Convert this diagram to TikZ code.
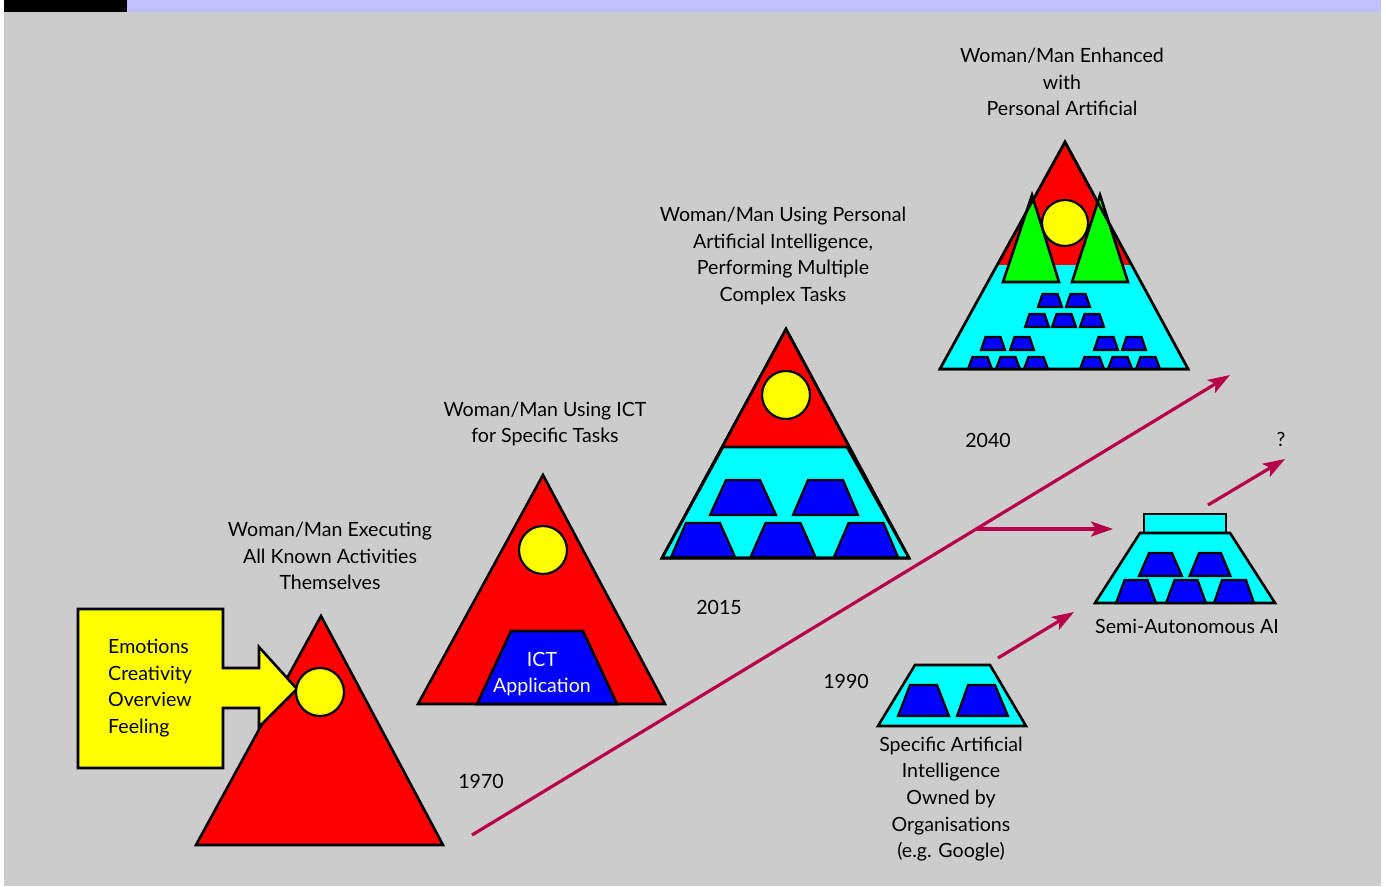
\documentclass[tikz,border=0pt]{standalone}
\usepackage{fontspec}
\setmainfont{Lato}
\usetikzlibrary{arrows.meta}
\definecolor{bg}{RGB}{204,204,204}
\definecolor{lav}{RGB}{192,192,255}
\definecolor{crim}{RGB}{184,0,74}
\definecolor{cyanf}{RGB}{0,255,255}
\definecolor{bluef}{RGB}{0,0,255}
\definecolor{redf}{RGB}{255,0,0}
\definecolor{yelf}{RGB}{255,255,0}
\definecolor{grnf}{RGB}{0,255,0}
\newcommand{\trapz}[5]{\filldraw[bluetrap] ({#1-#4},#2) -- ({#1+#4},#2) -- ({#1+#5},#3) -- ({#1-#5},#3) -- cycle;}
\begin{document}
\begin{tikzpicture}[x=1pt,y=-1pt,
  txt/.style={font=\fontsize{19.6}{26.7}\selectfont, align=center, inner sep=0pt},
  outl/.style={draw=black, line width=2.6pt, line join=miter},
  redtri/.style={outl, fill=redf},
  sun/.style={draw=black, line width=2.2pt, fill=yelf},
  bluetrap/.style={draw=black, line width=2.2pt, fill=bluef},
  cyantrap/.style={draw=black, line width=2.6pt, fill=cyanf},
  arr/.style={draw=crim, line width=3.2pt, -{Stealth[length=22pt,width=15pt,inset=5pt]}}]
\useasboundingbox (0,0) rectangle (1386,886);
\fill[white] (0,0) rectangle (1386,886);
\fill[bg] (4,12) rectangle (1381,886);
\fill[black] (4,0) rectangle (127,12);
\fill[lav] (127,0) rectangle (1381,12);

% ---------- pyramid 1970
\filldraw[redtri] (321,616) -- (443,845) -- (196,845) -- cycle;
\filldraw[draw=black, line width=2.6pt, fill=yelf, line join=miter]
  (78,609) -- (223,609) -- (223,668) -- (259,668) -- (259,647) -- (297,689)
  -- (259,727) -- (259,708) -- (223,708) -- (223,768) -- (78,768) -- cycle;
\filldraw[sun] (320,692) circle[radius=24];
\node[txt, anchor=west, align=left] (emo) at (108,688) {Emotions\\Creativity\\Overview\\Feeling};
\node[txt] (t1970) at (330,556) {Woman/Man Executing\\All Known Activities\\Themselves};
\node[txt] (y1970) at (481,781) {1970};

% ---------- pyramid ICT
\filldraw[redtri] (543,475) -- (665,704) -- (418,704) -- cycle;
\filldraw[sun] (543,550) circle[radius=24];
\filldraw[outl, fill=bluef] (511,631) -- (583,631) -- (617,704) -- (477,704) -- cycle;
\node[txt, text=white] (ict) at (542,674) {ICT\\Application};
\node[txt] (tict) at (545,424) {Woman/Man Using ICT\\for Specific Tasks};

% ---------- pyramid 2015
\filldraw[redtri] (786,329) -- (909,558) -- (662,558) -- cycle;
\filldraw[cyantrap] (723,447) -- (847,447) -- (909,558) -- (662,558) -- cycle;
\trapz{743}{480}{515}{17}{33}
\trapz{825.5}{480}{515}{17.5}{32.5}
\trapz{703}{523}{557}{17}{32}
\trapz{783}{523}{557}{17.5}{32.5}
\trapz{866}{523}{557}{17.5}{32}
\filldraw[sun] (786,395) circle[radius=24];
\draw[outl] (786,329) -- (909,558) -- (662,558) -- cycle;
\node[txt] (y2015) at (719,607) {2015};
\node[txt] (t2015) at (783,256) {Woman/Man Using Personal\\Artificial Intelligence,\\Performing Multiple\\Complex Tasks};

% ---------- pyramid 2040
\filldraw[redtri] (1065,142) -- (1188,369) -- (940,369) -- cycle;
\fill[cyanf] (997,265) -- (1133,265) -- (1188,369) -- (940,369) -- cycle;
\filldraw[outl, fill=grnf] (1032,195) -- (1059,282) -- (1003,282) -- cycle;
\filldraw[outl, fill=grnf] (1100,195) -- (1128,282) -- (1072,282) -- cycle;
\filldraw[sun] (1065,223) circle[radius=23];
\trapz{1050}{294}{307}{7.5}{12}
\trapz{1078}{294}{307}{7.5}{12}
\trapz{1037}{314}{327}{7.5}{12}
\trapz{1064}{314}{327}{7.5}{12}
\trapz{1092}{314}{327}{7.5}{12}
\trapz{993}{337}{350}{7.5}{12}
\trapz{1022}{337}{350}{7.5}{12}
\trapz{1106}{337}{350}{7.5}{12}
\trapz{1134}{337}{350}{7.5}{12}
\trapz{980}{357}{369}{7.5}{12}
\trapz{1008}{357}{369}{7.5}{12}
\trapz{1036}{357}{369}{7.5}{12}
\trapz{1092}{357}{369}{7.5}{12}
\trapz{1120}{357}{369}{7.5}{12}
\trapz{1148}{357}{369}{7.5}{12}
\draw[outl] (1065,142) -- (1188,369) -- (940,369) -- cycle;
\node[txt] (t2040) at (1062,82) {Woman/Man Enhanced\\with\\Personal Artificial};
\node[txt] (y2040) at (988,440) {2040};

% ---------- 1990 specific AI
\filldraw[cyantrap] (915,665) -- (990,665) -- (1026,726) -- (878,726) -- cycle;
\filldraw[bluetrap] (910,685) -- (937,685) -- (949,716) -- (898,716) -- cycle;
\filldraw[bluetrap] (968,685) -- (995,685) -- (1008,716) -- (957,716) -- cycle;
\node[txt] (y1990) at (846,681) {1990};
\node[txt] (tspec) at (951,799) {Specific Artificial\\Intelligence\\Owned by\\Organisations\\(e.g. Google)};

% ---------- semi-autonomous AI
\filldraw[cyantrap] (1144,514) rectangle (1226,533);
\filldraw[cyantrap] (1140,533) -- (1230,533) -- (1275,603) -- (1095,603) -- cycle;
\trapz{1160.5}{553}{576}{11.5}{21.5}
\trapz{1210}{553}{576}{11}{20.5}
\trapz{1136}{580}{603}{11.5}{20}
\trapz{1186}{580}{603}{11.5}{20}
\trapz{1234}{580}{603}{12}{20}
\node[txt] (tsemi) at (1187,626) {Semi-Autonomous AI};
\node[txt] (q) at (1281,439) {?};

% ---------- arrows
\coordinate (a0) at (472,835);
\coordinate (a1) at (1230,375);
\coordinate (b0) at (977,529);
\coordinate (b1) at (1113,529);
\coordinate (c0) at (998,658);
\coordinate (c1) at (1074,612);
\coordinate (d0) at (1208,505);
\coordinate (d1) at (1285,459);
\draw[arr] (a0) -- (a1);
\draw[arr] (b0) -- (b1);
\draw[arr] (c0) -- (c1);
\draw[arr] (d0) -- (d1);
\end{tikzpicture}
\end{document}
